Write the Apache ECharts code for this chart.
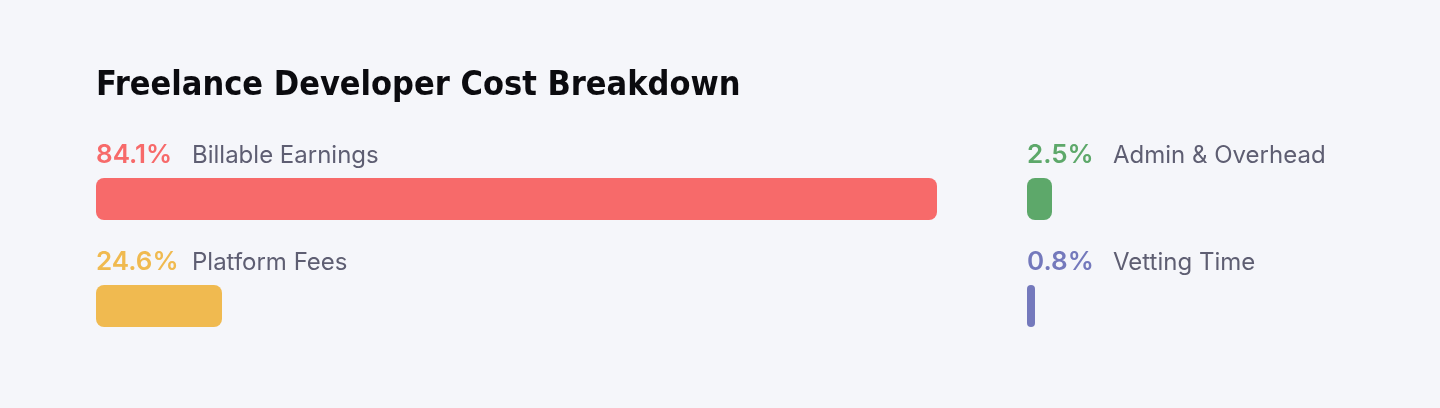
<!DOCTYPE html>
<html>
<head>
<meta charset="utf-8">
<script src="https://cdn.jsdelivr.net/npm/echarts@6/dist/echarts.min.js"></script>
<style>
html,body{margin:0;padding:0;background:#F5F6FA;}
#c{width:1440px;height:408px;}
</style>
</head>
<body>
<div id="c"></div>
<script>
var titleText = 'Freelance Developer Cost Breakdown';
var categories = ['Billable Earnings', 'Platform Fees', 'Admin & Overhead', 'Vetting Time'];
var shareLabels = ['84.1%', '24.6%', '2.5%', '0.8%'];
var barLengths = [84.1, 12.6, 2.5, 0.8];
var colors = ['#F76A6A', '#F0BA50', '#5DA86A', '#7479BC'];

var colLeft = [96, 96, 1027, 1027];
var rowTop = [178, 285, 178, 285];
var pctWidth = [96, 96, 86, 86];
var gridWidth = [1000, 1000, 380, 380];
var axisMax = [100, 100, 38, 38];

var chart = echarts.init(document.getElementById('c'), null, {renderer: 'canvas'});
var grids = [], xAxes = [], yAxes = [], series = [];
categories.forEach(function (name, i) {
  grids.push({left: colLeft[i], top: rowTop[i], width: gridWidth[i], height: 42, containLabel: false});
  xAxes.push({type: 'value', gridIndex: i, min: 0, max: axisMax[i], show: false});
  yAxes.push({type: 'category', gridIndex: i, data: [name], show: false});
  series.push({
    type: 'bar', xAxisIndex: i, yAxisIndex: i,
    data: [barLengths[i]], barWidth: 42, silent: true,
    itemStyle: {color: colors[i], borderRadius: 8},
    label: {
      show: true, position: [0, -22.5], align: 'left', verticalAlign: 'middle',
      formatter: '{p|' + shareLabels[i] + '}{n|' + name + '}',
      rich: {
        p: {color: colors[i], fontFamily: 'Inter', fontWeight: 600, fontSize: 26, width: pctWidth[i]},
        n: {color: '#5E5E72', fontFamily: 'Inter', fontWeight: 400, fontSize: 24}
      }
    }
  });
});

chart.setOption({
  backgroundColor: '#F5F6FA',
  animation: false,
  title: {
    text: titleText, left: 91, top: 64,
    textStyle: {fontFamily: '"DejaVu Sans Condensed", "Liberation Sans Narrow", sans-serif', fontWeight: 'bold', fontSize: 34, color: '#0B0B0F'}
  },
  grid: grids, xAxis: xAxes, yAxis: yAxes, series: series
});
</script>
</body>
</html>
